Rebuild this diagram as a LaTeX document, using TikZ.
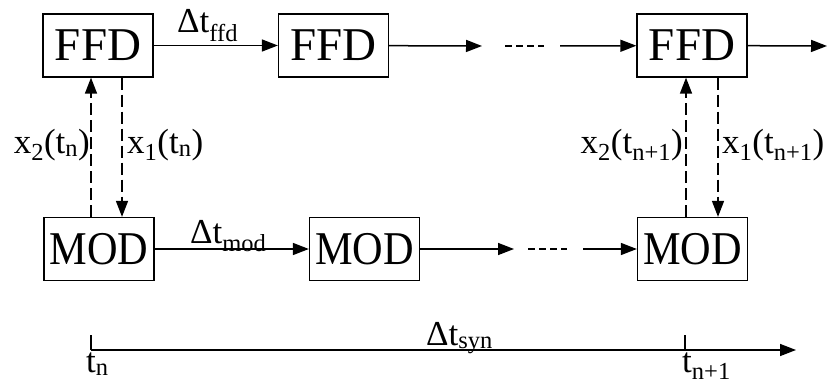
\documentclass[tikz,border=0pt]{standalone}
\usepackage{fontspec}
\setmainfont{Liberation Serif}
\usetikzlibrary{arrows.meta}
\begin{document}
\begin{tikzpicture}[x=1pt,y=-1pt,
  box/.style={draw,line width=1.3pt,minimum width=110pt,minimum height=63pt,inner sep=0pt,font=\fontsize{47}{47}\selectfont},
  lbl/.style={font=\fontsize{35}{35}\selectfont,inner sep=0pt},
  arr/.style={line width=1.5pt,-{Triangle[length=16pt,width=12pt]}},
  dsh/.style={arr,dash pattern=on 12pt off 5pt},
  dots/.style={line width=1.5pt,dash pattern=on 7pt off 4pt},
  tick/.style={line width=1.5pt}]
\useasboundingbox (0,0) rectangle (829,385);
% boxes
\node[box] (f1) at (98,45.5) {FFD};
\node[box] (f2) at (333.5,45.5) {FFD};
\node[box] (f3) at (692,45.5) {FFD};
\node[box] (m1) at (99,249) {\scalebox{0.9}[1]{MOD}};
\node[box] (m2) at (364.5,249) {\scalebox{0.9}[1]{MOD}};
\node[box] (m3) at (692.5,249) {\scalebox{0.9}[1]{MOD}};
% free ends
\coordinate (fa) at (482,46);
\coordinate (fb) at (505,46);
\coordinate (fc) at (544,46);
\coordinate (fd) at (560,46);
\coordinate (fe) at (827,46);
\coordinate (ma) at (514,249);
\coordinate (mb) at (528,249);
\coordinate (mc) at (567,249);
\coordinate (md) at (583,249);
% top row
\draw[arr] (f1) -- (f2);
\draw[arr] (f2) -- (fa);
\draw[dots] (fb) -- (fc);
\draw[arr] (fd) -- (f3);
\draw[arr] (f3) -- (fe);
\node[lbl,anchor=base west] (lffd) at (177,33) {Δt\textsubscript{ffd}};
% bottom row
\draw[arr] (m1) -- (m2);
\draw[arr] (m2) -- (ma);
\draw[dots] (mb) -- (mc);
\draw[arr] (md) -- (m3);
\node[lbl,anchor=base west] (lmod) at (190,243) {Δt\textsubscript{mod}};
% vertical exchanges
\coordinate (xa) at (91,0);
\coordinate (xb) at (122,0);
\coordinate (xc) at (686,0);
\coordinate (xd) at (718,0);
\draw[dsh] (m1.north -| xa) -- (f1.south -| xa);
\draw[dsh] (f1.south -| xb) -- (m1.north -| xb);
\draw[dsh] (m3.north -| xc) -- (f3.south -| xc);
\draw[dsh] (f3.south -| xd) -- (m3.north -| xd);
\node[lbl,anchor=base east] (l1) at (90,153) {x\textsubscript{2}(t\textsubscript{n})};
\node[lbl,anchor=base west] (l2) at (127,153) {x\textsubscript{1}(t\textsubscript{n})};
\node[lbl,anchor=base east] (l3) at (683,153) {x\textsubscript{2}(t\textsubscript{n+1})};
\node[lbl,anchor=base west] (l4) at (722,153) {x\textsubscript{1}(t\textsubscript{n+1})};
% time axis
\coordinate (t0) at (91,350);
\coordinate (t1) at (685,350);
\coordinate (tend) at (796,350);
\draw[arr] (t0) -- (tend);
\draw[tick] (t0) -- ++(0,-15);
\draw[tick] (t1) -- ++(0,-15);
\node[lbl,anchor=base west] (lsyn) at (426,345) {Δt\textsubscript{syn}};
\node[lbl,anchor=base west] (ltn) at (86,372) {t\textsubscript{n}};
\node[lbl,anchor=base west] (ltn1) at (682,372) {t\textsubscript{n+1}};
\end{tikzpicture}
\end{document}
